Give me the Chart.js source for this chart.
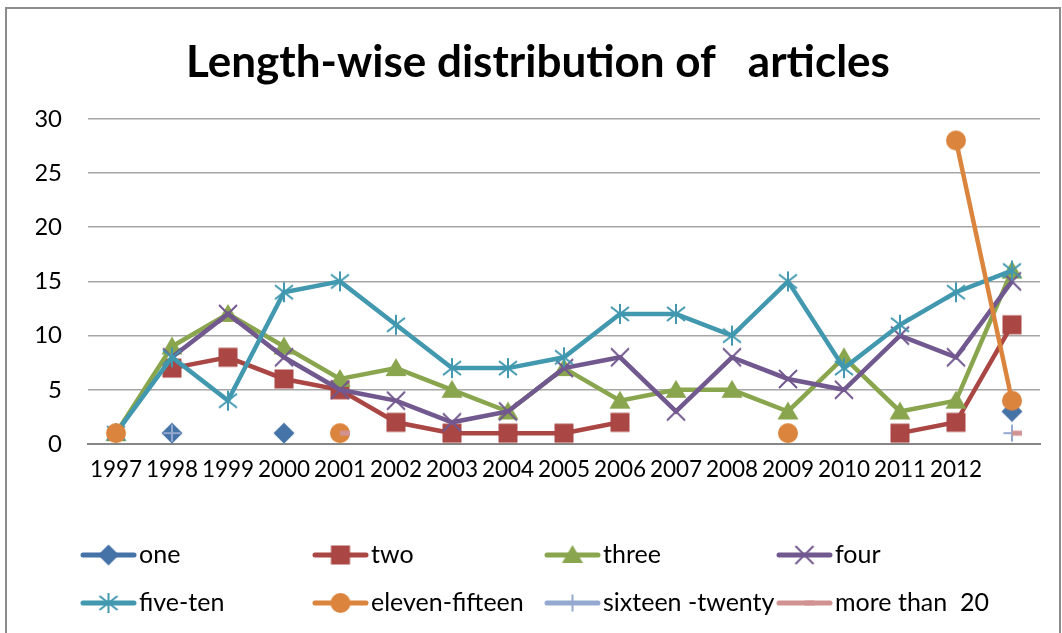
<!DOCTYPE html>
<html>
<head>
<meta charset="utf-8">
<script src="https://cdn.jsdelivr.net/npm/chart.js@4.4.1/dist/chart.umd.min.js"></script>
<style>
  html, body { margin: 0; padding: 0; background: #fff; }
  #wrap { position: relative; width: 1062px; height: 633px; overflow: hidden; }
  #frame { position: absolute; left: 5px; top: 7px; width: 1056px; height: 700px; border: 2px solid #8c8c8c; box-sizing: border-box; pointer-events: none; }
</style>
</head>
<body>
<div id="wrap">
  <canvas id="lenChart" width="1062" height="633"></canvas>
  <div id="frame"></div>
</div>
<script>
// categories (last one has no label in the original)
const years = ['1997', '1998', '1999', '2000', '2001', '2002', '2003', '2004', '2005',
  '2006', '2007', '2008', '2009', '2010', '2011', '2012', ''];

const one = [null, 1, null, 1, null, null, null, null, null, null, null, null, null, null, null, null, 3];
const two = [null, 7, 8, 6, 5, 2, 1, 1, 1, 2, null, null, null, null, 1, 2, 11];
const three = [1, 9, 12, 9, 6, 7, 5, 3, 7, 4, 5, 5, 3, 8, 3, 4, 16];
const four = [null, 8, 12, 8, 5, 4, 2, 3, 7, 8, 3, 8, 6, 5, 10, 8, 15];
const fiveTen = [1, 8, 4, 14, 15, 11, 7, 7, 8, 12, 12, 10, 15, 7, 11, 14, 16];
const elevenFifteen = [1, null, null, null, 1, null, null, null, null, null, null, null, 1, null, null, 28, 4];
const sixteenTwenty = [null, 1, null, null, null, null, null, null, null, null, null, null, null, null, null, null, 1];
const moreThan20 = [null, null, null, null, 1, null, null, null, null, null, null, null, null, null, null, null, 1];

const yTicks = [0, 5, 10, 15, 20, 25, 30];

// excel-like markers, drawn once on small canvases
function makeMarker(kind, color) {
  const s = 26, m = s / 2;
  const c = document.createElement('canvas');
  c.width = s; c.height = s;
  const g = c.getContext('2d');
  g.fillStyle = color;
  g.strokeStyle = color;
  g.lineWidth = 2;
  g.beginPath();
  if (kind === 'diamond') {
    g.moveTo(m, m - 10.5); g.lineTo(m + 10.5, m); g.lineTo(m, m + 10.5); g.lineTo(m - 10.5, m);
    g.closePath(); g.fill();
  } else if (kind === 'square') {
    g.fillRect(m - 9.5, m - 9.5, 19, 19);
  } else if (kind === 'triangle') {
    g.moveTo(m, m - 10); g.lineTo(m + 10.5, m + 8); g.lineTo(m - 10.5, m + 8);
    g.closePath(); g.fill();
  } else if (kind === 'x') {
    g.moveTo(m - 9, m - 9); g.lineTo(m + 9, m + 9);
    g.moveTo(m + 9, m - 9); g.lineTo(m - 9, m + 9);
    g.stroke();
  } else if (kind === 'star') {
    g.moveTo(m - 9, m - 7); g.lineTo(m + 9, m + 7);
    g.moveTo(m + 9, m - 7); g.lineTo(m - 9, m + 7);
    g.moveTo(m, m - 10); g.lineTo(m, m + 10);
    g.stroke();
  } else if (kind === 'circle') {
    g.arc(m, m, 10, 0, Math.PI * 2); g.fill();
  } else if (kind === 'plus') {
    g.moveTo(m, m - 8.5); g.lineTo(m, m + 8.5);
    g.moveTo(m - 8.5, m); g.lineTo(m + 8.5, m);
    g.stroke();
  } else if (kind === 'dash') {
    g.fillRect(m, m - 2.5, 10, 5);
  }
  return c;
}

const series = [
  { label: 'one', data: one, color: '#4572A7', marker: 'diamond' },
  { label: 'two', data: two, color: '#AA4643', marker: 'square' },
  { label: 'three', data: three, color: '#89A54E', marker: 'triangle' },
  { label: 'four', data: four, color: '#71588F', marker: 'x' },
  { label: 'five-ten', data: fiveTen, color: '#4198AF', marker: 'star' },
  { label: 'eleven-fifteen', data: elevenFifteen, color: '#DB843D', marker: 'circle' },
  { label: 'sixteen -twenty', data: sixteenTwenty, color: '#93A9CF', marker: 'plus' },
  { label: 'more than  20', data: moreThan20, color: '#D19392', marker: 'dash' }
];

const datasets = series.map((s, i) => ({
  label: s.label,
  data: s.data,
  borderColor: s.color,
  backgroundColor: s.color,
  borderWidth: 4.5,
  pointStyle: makeMarker(s.marker, s.color),
  pointRadius: 10,
  tension: 0,
  order: series.length - i   // later series on top, like excel
}));

// legend laid out in a 4x2 grid like the original
const gridLegend = {
  id: 'gridLegend',
  afterDraw(chart) {
    const ctx = chart.ctx;
    const cols = [81, 313, 545, 777];
    const rows = [555, 603];
    chart.data.datasets.forEach((ds, i) => {
      const x = cols[i % 4], y = rows[Math.floor(i / 4)];
      ctx.save();
      ctx.strokeStyle = ds.borderColor;
      ctx.lineWidth = 5;
      ctx.lineCap = 'round';
      ctx.beginPath();
      ctx.moveTo(x + 2, y);
      ctx.lineTo(x + 53, y);
      ctx.stroke();
      const img = ds.pointStyle;
      ctx.drawImage(img, x + 27.5 - img.width / 2, y - img.height / 2);
      ctx.fillStyle = '#000';
      ctx.font = '25px Lato';
      ctx.textBaseline = 'middle';
      ctx.textAlign = 'left';
      ctx.fillText(ds.label, x + 58, y);
      ctx.restore();
    });
  }
};

Chart.defaults.font.family = 'Lato';

const ctx = document.getElementById('lenChart').getContext('2d');
const lenChart = new Chart(ctx, {
  type: 'line',
  data: { labels: years, datasets: datasets },
  options: {
    responsive: false,
    animation: false,
    layout: { padding: { left: 36, right: 22, top: 0, bottom: 129 } },
    plugins: {
      legend: { display: false },
      tooltip: { enabled: false },
      title: {
        display: true,
        text: 'Length-wise distribution of   articles',
        color: '#000',
        font: { size: 44, weight: 'bold', family: 'Lato' },
        padding: { top: 36, bottom: 30 }
      }
    },
    scales: {
      x: {
        offset: true,
        grid: { display: false, drawTicks: false },
        border: { display: true, color: '#868686', width: 2 },
        ticks: { color: '#000', font: { size: 22.5 }, padding: 12, maxRotation: 0, autoSkip: false },
        afterFit: (scale) => { scale.height = 60; }
      },
      y: {
        min: 0,
        max: 30,
        afterBuildTicks: (scale) => { scale.ticks = yTicks.map(v => ({ value: v })); },
        grid: { color: '#a6a6a6', lineWidth: 1.5, drawTicks: false },
        border: { display: false },
        ticks: { color: '#000', font: { size: 24 }, padding: 26 },
        afterFit: (scale) => { scale.width = 52; }
      }
    }
  },
  plugins: [gridLegend]
});
</script>
</body>
</html>
